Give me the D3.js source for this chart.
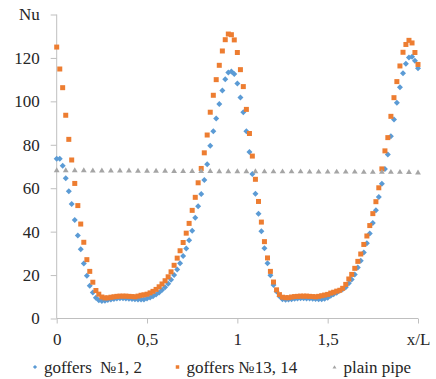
<!DOCTYPE html>
<html>
<head>
<meta charset="utf-8">
<script src="https://cdn.jsdelivr.net/npm/d3@7"></script>
</head>
<body style="margin:0">
<div id="chart"></div>
<script>
// x/L positions shared by both goffer series
const xGrid = [
  0, 0.017, 0.033, 0.05, 0.067, 0.083, 0.1, 0.117, 0.133, 0.15,
  0.167, 0.183, 0.2, 0.217, 0.233, 0.25, 0.267, 0.283, 0.3, 0.317,
  0.333, 0.35, 0.367, 0.383, 0.4, 0.417, 0.433, 0.45, 0.467, 0.483,
  0.5, 0.517, 0.533, 0.55, 0.567, 0.583, 0.6, 0.617, 0.633, 0.65,
  0.667, 0.683, 0.7, 0.717, 0.733, 0.75, 0.767, 0.783, 0.8, 0.817,
  0.833, 0.85, 0.867, 0.883, 0.9, 0.917, 0.933, 0.95, 0.967, 0.983,
  1, 1.017, 1.033, 1.05, 1.067, 1.083, 1.1, 1.117, 1.133, 1.15,
  1.167, 1.183, 1.2, 1.217, 1.233, 1.25, 1.267, 1.283, 1.3, 1.317,
  1.333, 1.35, 1.367, 1.383, 1.4, 1.417, 1.433, 1.45, 1.467, 1.483,
  1.5, 1.517, 1.533, 1.55, 1.567, 1.583, 1.6, 1.617, 1.633, 1.65,
  1.667, 1.683, 1.7, 1.717, 1.733, 1.75, 1.767, 1.783, 1.8, 1.817,
  1.833, 1.85, 1.867, 1.883, 1.9, 1.917, 1.933, 1.95, 1.967, 1.983,
  2
];

// goffers No1, 2
const nuGoffers12 = [
  73.6, 73.6, 70.3, 64.6, 58.6, 52.7, 45.4, 38.2, 31.9, 25.3,
  19.7, 15.1, 12.0, 9.6, 8.4, 8.1, 8.2, 8.5, 8.8, 9.0,
  9.2, 9.3, 9.3, 9.2, 9.1, 9.0, 8.9, 8.8, 8.7, 8.8,
  9.2, 9.7, 10.3, 11.1, 12.0, 13.1, 14.4, 16.0, 17.8, 20.0,
  22.6, 25.4, 28.8, 32.2, 36.0, 40.4, 46.4, 51.7, 57.3, 63.8,
  71.0, 79.5, 86.2, 92.1, 98.8, 105.0, 110.2, 113.3, 113.8, 112.6,
  108.2, 101.8, 95.0, 86.2, 76.7, 66.6, 57.5, 48.2, 40.2, 32.3,
  25.5, 19.9, 15.4, 12.4, 10.2, 8.9, 8.6, 8.7, 8.9, 9.1,
  9.2, 9.3, 9.3, 9.2, 9.2, 9.1, 9.0, 8.9, 8.9, 9.1,
  9.5, 10.5, 11.2, 11.9, 12.8, 13.5, 14.4, 16.2, 18.0, 20.3,
  23.5, 26.6, 30.4, 34.6, 39.2, 44.0, 49.9, 55.9, 62.0, 68.8,
  75.5, 83.9, 91.7, 99.4, 106.5, 112.9, 117.3, 120.2, 120.6, 118.7,
  115.2
];

// goffers No13, 14
const nuGoffers1314 = [
  125.0, 114.9, 106.3, 93.6, 82.5, 73.0, 62.2, 52.0, 43.5, 35.1,
  27.1, 21.7, 16.7, 12.9, 11.2, 9.9, 9.5, 9.5, 9.8, 10.0,
  10.2, 10.3, 10.3, 10.3, 10.2, 10.1, 10.0, 10.3, 10.7, 10.9,
  11.2, 11.8, 12.5, 13.4, 14.6, 15.9, 17.4, 19.2, 21.5, 24.5,
  27.8, 31.2, 35.0, 39.3, 43.8, 49.8, 55.8, 62.5, 69.1, 76.3,
  84.5, 95.0, 102.8, 110.0, 116.6, 123.2, 128.4, 131.0, 130.7, 128.3,
  122.5, 114.6, 106.8, 96.3, 85.2, 74.8, 64.1, 53.9, 44.4, 35.4,
  27.9, 21.7, 16.8, 13.2, 11.0, 9.8, 9.6, 9.6, 9.9, 10.1,
  10.2, 10.3, 10.3, 10.3, 10.2, 10.1, 10.0, 10.2, 10.5, 10.8,
  11.1, 11.7, 12.1, 12.6, 13.0, 13.9, 15.7, 18.2, 20.3, 23.1,
  26.3, 29.7, 34.1, 38.0, 42.8, 48.3, 53.8, 60.2, 68.9, 77.2,
  83.3, 93.1, 101.7, 109.1, 116.3, 122.6, 126.2, 128.1, 126.9, 122.5,
  117.0
];

// plain pipe
const xPlain = [
  0, 0.05, 0.1, 0.15, 0.2, 0.25, 0.3, 0.35, 0.4, 0.45,
  0.5, 0.55, 0.6, 0.65, 0.7, 0.75, 0.8, 0.85, 0.9, 0.95,
  1, 1.05, 1.1, 1.15, 1.2, 1.25, 1.3, 1.35, 1.4, 1.45,
  1.5, 1.55, 1.6, 1.65, 1.7, 1.75, 1.8, 1.85, 1.9, 1.95,
  2
];
const nuPlain = [
  68.4, 68.4, 68.4, 68.4, 68.3, 68.3, 68.3, 68.3, 68.3, 68.2,
  68.2, 68.2, 68.2, 68.1, 68.1, 68.1, 68.1, 68.1, 68.0, 68.0,
  68.0, 68.0, 68.0, 67.9, 67.9, 67.9, 67.9, 67.9, 67.8, 67.8,
  67.8, 67.8, 67.8, 67.8, 67.7, 67.7, 67.7, 67.7, 67.7, 67.6,
  67.4
];

const yTicks = [0, 20, 40, 60, 80, 100, 120, 140];
const xTicks = [0, 0.5, 1, 1.5, 2];
const xTickLabels = ['0', '0,5', '1', '1,5', 'x/L'];
const seriesNames = ['goffers  \u21161, 2', 'goffers \u211613, 14', 'plain pipe'];
const seriesColors = ['#5b9bd5', '#ed7d31', '#a5a5a5'];

const width = 436;
const height = 379;
const axisColor = '#bfbfbf';
const textColor = '#262626';

const svg = d3.select('#chart')
  .append('svg')
  .attr('width', width)
  .attr('height', height)
  .style('display', 'block');

const x = d3.scaleLinear().domain([0, 2]).range([56.7, 418]);
const y = d3.scaleLinear().domain([0, 140]).range([318.5, 14.5]);

// axes
const yAxis = svg.append('g')
  .attr('transform', 'translate(56.7,0)')
  .call(d3.axisLeft(y)
    .tickValues(yTicks)
    .tickSize(6)
    .tickPadding(11)
    .tickFormat(d => d === 140 ? 'Nu' : d));
yAxis.select('.domain').attr('d', `M0,${y(140)}V${y(0)}`);

const xAxis = svg.append('g')
  .attr('transform', `translate(0,${y(0)})`)
  .call(d3.axisBottom(x)
    .tickValues(xTicks)
    .tickSize(5)
    .tickPadding(9)
    .tickFormat((d, i) => xTickLabels[i]));
xAxis.select('.domain').attr('d', `M${x(0)},0H${x(2)}`);

[yAxis, xAxis].forEach(g => {
  g.attr('font-family', null).attr('font-size', null);
  g.selectAll('path, line').attr('stroke', axisColor);
  g.selectAll('text')
    .attr('fill', textColor)
    .attr('font-size', 17)
    .style('font-family', "'Liberation Serif'");
});

// markers
const diamond = 'M0,-3L3,0L0,3L-3,0Z';
const square = 'M-2.5,-2.5H2.5V2.5H-2.5Z';
const triangle = 'M0,-2.6L2.9,2.3H-2.9Z';
const shapes = [diamond, square, triangle];

const plot = svg.append('g');

plot.selectAll('.s1')
  .data(xGrid.map((v, i) => [v, nuGoffers12[i]]))
  .enter()
  .append('path')
  .attr('class', 's1')
  .attr('d', diamond)
  .attr('transform', d => `translate(${x(d[0])},${y(d[1])})`)
  .attr('fill', seriesColors[0]);

plot.selectAll('.s2')
  .data(xGrid.map((v, i) => [v, nuGoffers1314[i]]))
  .enter()
  .append('path')
  .attr('class', 's2')
  .attr('d', square)
  .attr('transform', d => `translate(${x(d[0])},${y(d[1])})`)
  .attr('fill', seriesColors[1]);

plot.selectAll('.s3')
  .data(xPlain.map((v, i) => [v, nuPlain[i]]))
  .enter()
  .append('path')
  .attr('class', 's3')
  .attr('d', triangle)
  .attr('transform', d => `translate(${x(d[0])},${y(d[1])})`)
  .attr('fill', seriesColors[2]);

// legend
const legendX = [35, 177.5, 334.5];
const legend = svg.append('g')
  .selectAll('g')
  .data(seriesNames)
  .enter()
  .append('g')
  .attr('transform', (d, i) => `translate(${legendX[i]},367)`);

legend.append('path')
  .attr('d', (d, i) => shapes[i])
  .attr('transform', 'scale(0.7)')
  .attr('fill', (d, i) => seriesColors[i]);

legend.append('text')
  .attr('x', 9)
  .attr('y', 5.5)
  .attr('fill', textColor)
  .attr('font-size', 17)
  .style('font-family', "'Liberation Serif'")
  .attr('xml:space', 'preserve')
  .text(d => d);
</script>
</body>
</html>
